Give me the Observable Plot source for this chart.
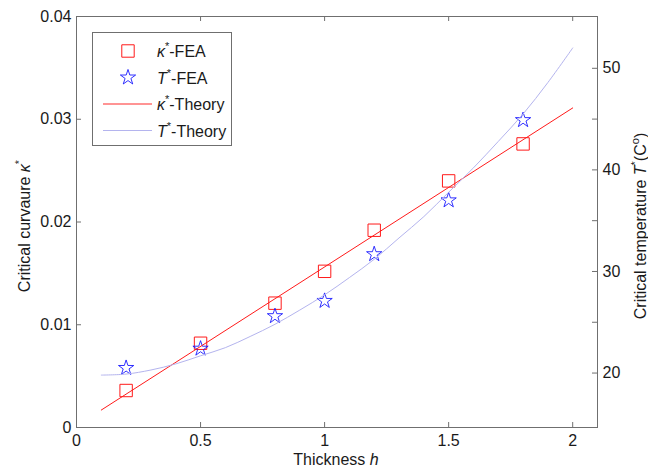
<!DOCTYPE html>
<html><head><meta charset="utf-8">
<script src="https://cdn.jsdelivr.net/npm/d3@7"></script>
<script src="https://cdn.jsdelivr.net/npm/@observablehq/plot@0.6"></script>
<style>body{margin:0;background:#fff} svg{display:block}</style>
</head><body><div id="chart"></div>
<script>
// ---- data ----
const feaH = [0.2, 0.5, 0.8, 1.0, 1.2, 1.5, 1.8];
const kappaFEA = [0.0036, 0.0082, 0.0121, 0.0152, 0.0192, 0.0240, 0.0276];
const tempFEA = [20.5, 22.4, 25.6, 27.1, 31.7, 37.0, 44.9];
const kappaTheoryH = [0.1, 2.0];
const kappaTheory = [0.0017, 0.0311];
const tempTheoryH = [0.1, 0.2, 0.3, 0.4, 0.5, 0.6, 0.7, 0.8, 0.9, 1.0, 1.1, 1.2, 1.3, 1.4, 1.5, 1.6, 1.7, 1.8, 1.9, 2.0];
const tempTheory = [19.8, 19.9, 20.3, 20.9, 21.7, 22.5, 23.6, 24.8, 26.2, 27.7, 29.4, 31.2, 33.3, 35.4, 37.8, 40.2, 42.8, 45.5, 48.6, 52.0];
const xTicks = [0, 0.5, 1, 1.5, 2];
const kappaTicks = [0, 0.01, 0.02, 0.03, 0.04];
const tempTicks = [20, 25, 30, 35, 40, 45, 50];
const tempLabeled = [20, 30, 40, 50];
const xDomain = [0, 2.1];
const kappaDomain = [0, 0.04];
const tempDomain = [14.64, 55.1];

// right axis: map temperature onto the left (kappa) scale
const toK = t => kappaDomain[0] + (t - tempDomain[0]) / (tempDomain[1] - tempDomain[0]) * (kappaDomain[1] - kappaDomain[0]);
const rightTickK = tempTicks.map(toK);
const rightLabel = new Map(tempTicks.map(t => [toK(t), tempLabeled.includes(t) ? String(t) : ""]));

const fea = feaH.map((h, i) => ({h, k: kappaFEA[i], t: toK(tempFEA[i])}));
const kLine = kappaTheoryH.map((h, i) => ({h, k: kappaTheory[i]}));
const tLine = tempTheoryH.map((h, i) => ({h, t: toK(tempTheory[i])}));

const RED = "#ff1a1a", BLUE = "#1a1aff", LAV = "#b4b4ee", AX = "#6f6f6f", INK = "#1a1a1a";
const W = 648, H = 469, ML = 76, MR = 51, MT = 16, MB = 42;
const PW = W - ML - MR, PH = H - MT - MB, TL = 5;

const svg = Plot.plot({
  width: W, height: H,
  marginLeft: ML, marginRight: MR, marginTop: MT, marginBottom: MB,
  style: {fontFamily: "'Liberation Sans', Arial, sans-serif", fontSize: "16px", color: INK, background: "#fff"},
  x: {domain: xDomain},
  y: {domain: kappaDomain},
  marks: [
    Plot.frame({stroke: AX}),
    // inward tick marks (bottom, top, left, right)
    Plot.tickX(xTicks, {x: d => d, stroke: AX, insetTop: PH - TL}),
    Plot.tickX(xTicks, {x: d => d, stroke: AX, insetBottom: PH - TL}),
    Plot.tickY(kappaTicks, {y: d => d, stroke: AX, insetRight: PW - TL}),
    Plot.tickY(rightTickK, {y: d => d, stroke: AX, insetLeft: PW - TL}),
    // tick labels
    Plot.axisX(xTicks, {anchor: "bottom", tickSize: 0, tickPadding: 7, label: null, fill: INK, tickFormat: d => String(d)}),
    Plot.axisY(kappaTicks, {anchor: "left", tickSize: 0, tickPadding: 5, label: null, fill: INK, tickFormat: d => String(d)}),
    Plot.axisY(rightTickK, {anchor: "right", tickSize: 0, tickPadding: 5, label: null, fill: INK, tickFormat: d => rightLabel.get(d)}),
    // data
    Plot.dot(fea, {x: "h", y: "k", symbol: "square", r: 7, stroke: RED, strokeWidth: 1, fill: "none"}),
    Plot.dot(fea, {x: "h", y: "t", symbol: "star", r: 4.8, stroke: BLUE, strokeWidth: 0.9, fill: "none"}),
    Plot.line(kLine, {x: "h", y: "k", stroke: RED, strokeWidth: 1}),
    Plot.line(tLine, {x: "h", y: "t", stroke: LAV, strokeWidth: 1, curve: "catmull-rom"})
  ]
});
document.getElementById("chart").appendChild(svg);

// ---- axis titles and legend as real text ----
const s = d3.select(svg);
const font = "'Liberation Sans', Arial, sans-serif";
function supLabel(sel, parts) {
  parts.forEach(p => {
    const ts = sel.append("tspan").text(p.t);
    if (p.i) ts.attr("font-style", "italic");
    if (p.sup) ts.attr("font-size", "11px").attr("dy", "-7");
    if (p.down) ts.attr("dy", "7");
  });
}
// x title
const xt = s.append("text").attr("x", 336).attr("y", 465).attr("text-anchor", "middle")
  .attr("font-family", font).attr("font-size", "16px").attr("fill", INK);
supLabel(xt, [{t: "Thickness "}, {t: "h", i: true}]);
// left title
const lt = s.append("text").attr("transform", "translate(30,226) rotate(-90)").attr("text-anchor", "middle")
  .attr("font-family", font).attr("font-size", "16px").attr("fill", INK);
supLabel(lt, [{t: "Critical curvaure "}, {t: "κ", i: true}, {t: "*", sup: true}]);
// right title
const rt = s.append("text").attr("transform", "translate(646,226) rotate(-90)").attr("text-anchor", "middle")
  .attr("font-family", font).attr("font-size", "16px").attr("fill", INK);
supLabel(rt, [{t: "Critical temperature "}, {t: "T", i: true}, {t: "*", sup: true}, {t: "(C", down: true}, {t: "o", sup: true}, {t: ")", down: true}]);

// legend
const lg = s.append("g").attr("font-family", font).attr("font-size", "16px").attr("text-anchor", "start");
lg.append("rect").attr("x", 92.5).attr("y", 32.5).attr("width", 139).attr("height", 113).style("fill", "#fff").style("stroke", AX);
const rows = [
  {y: 51, sym: "square", lab: [{t: "κ", i: true}, {t: "*", sup: true}, {t: "-FEA", down: true}]},
  {y: 77.5, sym: "star", lab: [{t: "T", i: true}, {t: "*", sup: true}, {t: "-FEA", down: true}]},
  {y: 104, col: "#ff2a2a", lab: [{t: "κ", i: true}, {t: "*", sup: true}, {t: "-Theory", down: true}]},
  {y: 130.5, col: LAV, lab: [{t: "T", i: true}, {t: "*", sup: true}, {t: "-Theory", down: true}]}
];
rows.forEach(r => {
  if (r.sym === "square") lg.append("path").attr("d", d3.symbol(d3.symbolSquare, Math.PI * 49)()).attr("transform", `translate(128,${r.y})`).style("fill", "none").style("stroke", RED);
  if (r.sym === "star") lg.append("path").attr("d", d3.symbol(d3.symbolStar, Math.PI * 4.8 * 4.8)()).attr("transform", `translate(128,${r.y})`).style("fill", "none").style("stroke", BLUE).style("stroke-width", 0.9);
  if (r.col) lg.append("rect").attr("x", 103).attr("y", r.y - 0.5).attr("width", 49).attr("height", 1).style("fill", r.col).style("stroke", "none");
  const t = lg.append("text").attr("x", 157).attr("y", r.y + 6).style("fill", INK);
  supLabel(t, r.lab);
});
</script></body></html>
